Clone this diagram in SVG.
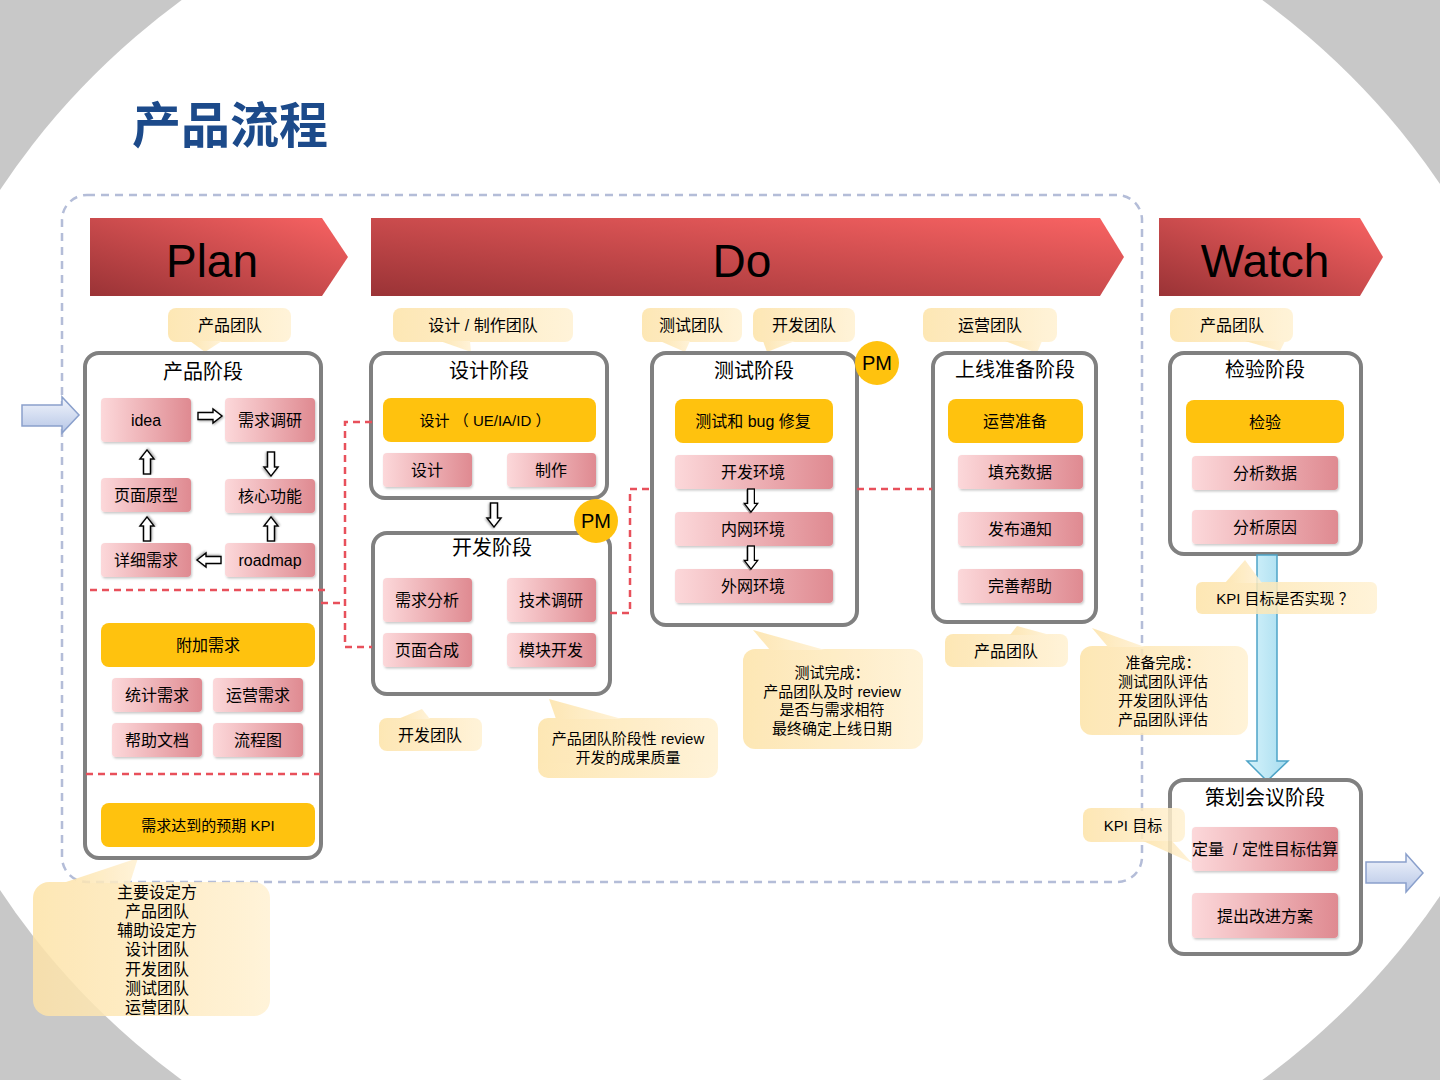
<svg xmlns="http://www.w3.org/2000/svg" width="1440" height="1080" viewBox="0 0 1440 1080">
<style>
text{font-family:"Liberation Sans","Noto Sans CJK SC",sans-serif;fill:#000;text-anchor:middle}
.t16{font-size:16px}
.t15{font-size:15px}
.t20{font-size:20px}
.ban{font-size:46px}
.stage{fill:#fff;stroke:#808080;stroke-width:4}
.pink{fill:url(#gPink);filter:url(#sh)}
.yel{fill:#FFC20E}
.call{opacity:0.85}
.call rect,.call polygon{fill:url(#gCall)}
.red{fill:none;stroke:#e8505b;stroke-width:2.5;stroke-dasharray:7 5}
.blk{fill:#fff;stroke:#000;stroke-width:1.4;filter:url(#sh2)}
.side{fill:url(#gSide);stroke:#8aa0cc;stroke-width:1.5}
</style>
<defs>
<linearGradient id="gBan" x1="0" y1="1" x2="1" y2="0">
<stop offset="0" stop-color="#9a3336"/>
<stop offset="1" stop-color="#f96363"/>
</linearGradient>
<linearGradient id="gPink" x1="0" y1="0" x2="1" y2="0">
<stop offset="0" stop-color="#fcd8da"/>
<stop offset="1" stop-color="#df8a91"/>
</linearGradient>
<linearGradient id="gCall" x1="0" y1="0" x2="1" y2="0">
<stop offset="0" stop-color="#fde3a8"/>
<stop offset="1" stop-color="#fff1d2"/>
</linearGradient>
<linearGradient id="gSide" x1="0" y1="0" x2="0" y2="1">
<stop offset="0" stop-color="#f2f5fc"/>
<stop offset="1" stop-color="#b6c6e6"/>
</linearGradient>
<linearGradient id="gBlue" x1="0" y1="0" x2="1" y2="0">
<stop offset="0" stop-color="#d6f3fb"/>
<stop offset="1" stop-color="#a6dcef"/>
</linearGradient>
<filter id="sh" x="-10%" y="-10%" width="120%" height="130%">
<feDropShadow dx="1" dy="1.5" stdDeviation="1" flood-color="#000" flood-opacity="0.22"/>
</filter>
<filter id="sh2" x="-30%" y="-30%" width="160%" height="160%">
<feDropShadow dx="1" dy="1" stdDeviation="0.8" flood-color="#000" flood-opacity="0.35"/>
</filter>
<path id="ar" d="M0,-3.5 H15 V-7 L24,0 L15,7 V3.5 H0 Z"/>
</defs>

<rect x="0" y="0" width="1440" height="1080" fill="#c8c8c8"/>
<ellipse cx="722" cy="540" rx="829" ry="712" fill="#fff"/>

<text x="230" y="143" style="font-size:49px;font-weight:bold;fill:#1c4a8a;text-anchor:middle">产品流程</text>

<rect x="62" y="195" width="1080" height="687" rx="25" fill="none" stroke="#b4bdd8" stroke-width="2.5" stroke-dasharray="8 6"/>

<g id="banner-plan">
<polygon points="90,218 322,218 348,257 322,296 90,296" fill="url(#gBan)"/>
<text class="ban" x="212" y="277">Plan</text>
</g>
<g id="banner-do">
<polygon points="371,218 1100,218 1124,257 1100,296 371,296" fill="url(#gBan)"/>
<text class="ban" x="742" y="277">Do</text>
</g>
<g id="banner-watch">
<polygon points="1159,218 1360,218 1383,257 1360,296 1159,296" fill="url(#gBan)"/>
<text class="ban" x="1265" y="277">Watch</text>
</g>

<g id="callouts">
<g class="call"><rect x="168" y="308" width="123" height="34" rx="8"/><polygon points="190,341 222,341 205,352"/></g>
<text class="t16" x="230" y="331">产品团队</text>
<g class="call"><rect x="393" y="308" width="180" height="34" rx="8"/><polygon points="440,341 470,341 471,352"/></g>
<text class="t16" x="483" y="331">设计 / 制作团队</text>
<g class="call"><rect x="642" y="308" width="100" height="34" rx="8"/><polygon points="660,341 690,341 685,352"/></g>
<text class="t16" x="691" y="331">测试团队</text>
<g class="call"><rect x="753" y="308" width="102" height="34" rx="8"/><polygon points="763,341 795,341 767,352"/></g>
<text class="t16" x="804" y="331">开发团队</text>
<g class="call"><rect x="923" y="308" width="134" height="34" rx="8"/><polygon points="1005,341 1042,341 1037,353"/></g>
<text class="t16" x="990" y="331">运营团队</text>
<g class="call"><rect x="1170" y="308" width="123" height="34" rx="8"/><polygon points="1245,341 1285,341 1280,351"/></g>
<text class="t16" x="1232" y="331">产品团队</text>

<g class="call"><rect x="379" y="718" width="103" height="33" rx="8"/><polygon points="398,719 430,719 422,709"/></g>
<text class="t16" x="430" y="741">开发团队</text>
<g class="call"><rect x="538" y="718" width="180" height="60" rx="10"/><polygon points="556,719 622,719 549,699"/></g>
<text class="t15" x="628" y="744">产品团队阶段性 review</text>
<text class="t15" x="628" y="763">开发的成果质量</text>

<g class="call"><rect x="743" y="649" width="180" height="100" rx="12"/><polygon points="770,650 825,650 753,630"/></g>
<text class="t15" x="832" y="678">测试完成：</text>
<text class="t15" x="832" y="697">产品团队及时 review</text>
<text class="t15" x="832" y="715">是否与需求相符</text>
<text class="t15" x="832" y="734">最终确定上线日期</text>

<g class="call"><rect x="945" y="634" width="123" height="33" rx="8"/><polygon points="1010,635 1050,635 1017,626"/></g>
<text class="t16" x="1006" y="657">产品团队</text>

<g class="call"><rect x="1080" y="646" width="168" height="89" rx="12"/><polygon points="1108,647 1145,647 1092,628"/></g>
<text class="t15" x="1163" y="668">准备完成：</text>
<text class="t15" x="1163" y="687">测试团队评估</text>
<text class="t15" x="1163" y="706">开发团队评估</text>
<text class="t15" x="1163" y="725">产品团队评估</text>

<g class="call"><rect x="33" y="882" width="237" height="134" rx="16"/><polygon points="63,883 130,883 138,858"/></g>
<text class="t16" x="157" y="898">主要设定方</text>
<text class="t16" x="157" y="917">产品团队</text>
<text class="t16" x="157" y="936">辅助设定方</text>
<text class="t16" x="157" y="955">设计团队</text>
<text class="t16" x="157" y="975">开发团队</text>
<text class="t16" x="157" y="994">测试团队</text>
<text class="t16" x="157" y="1013">运营团队</text>
</g>

<g id="stage-product">
<rect class="stage" x="85" y="353" width="236" height="505" rx="14"/>
<text class="t20" x="203" y="379">产品阶段</text>
<rect class="pink" x="101" y="398" width="90" height="44" rx="4"/><text class="t16" x="146" y="426">idea</text>
<rect class="pink" x="225" y="398" width="90" height="44" rx="4"/><text class="t16" x="270" y="426">需求调研</text>
<rect class="pink" x="101" y="478" width="90" height="34" rx="4"/><text class="t16" x="146" y="501">页面原型</text>
<rect class="pink" x="225" y="479" width="90" height="34" rx="4"/><text class="t16" x="270" y="502">核心功能</text>
<rect class="pink" x="101" y="543" width="90" height="34" rx="4"/><text class="t16" x="146" y="566">详细需求</text>
<rect class="pink" x="225" y="543" width="90" height="34" rx="4"/><text class="t16" x="270" y="566">roadmap</text>
<rect class="yel" x="101" y="623" width="214" height="44" rx="8"/><text class="t16" x="208" y="651">附加需求</text>
<rect class="pink" x="112" y="678" width="90" height="34" rx="4"/><text class="t16" x="157" y="701">统计需求</text>
<rect class="pink" x="213" y="678" width="90" height="34" rx="4"/><text class="t16" x="258" y="701">运营需求</text>
<rect class="pink" x="112" y="723" width="90" height="34" rx="4"/><text class="t16" x="157" y="746">帮助文档</text>
<rect class="pink" x="213" y="723" width="90" height="34" rx="4"/><text class="t16" x="258" y="746">流程图</text>
<rect class="yel" x="101" y="803" width="214" height="44" rx="8"/><text class="t15" x="208" y="831">需求达到的预期 KPI</text>
</g>

<g id="stage-design">
<rect class="stage" x="371" y="353" width="236" height="145" rx="14"/>
<text class="t20" x="489" y="378">设计阶段</text>
<rect class="yel" x="383" y="398" width="213" height="44" rx="8"/><text class="t15" x="485" y="426">设计 （ UE/IA/ID ）</text>
<rect class="pink" x="383" y="453" width="89" height="34" rx="4"/><text class="t16" x="427" y="476">设计</text>
<rect class="pink" x="507" y="453" width="89" height="34" rx="4"/><text class="t16" x="551" y="476">制作</text>
</g>

<g id="stage-dev">
<rect class="stage" x="373" y="533" width="237" height="161" rx="14"/>
<text class="t20" x="492" y="555">开发阶段</text>
<rect class="pink" x="383" y="578" width="89" height="44" rx="4"/><text class="t16" x="427" y="606">需求分析</text>
<rect class="pink" x="507" y="578" width="89" height="44" rx="4"/><text class="t16" x="551" y="606">技术调研</text>
<rect class="pink" x="383" y="633" width="89" height="34" rx="4"/><text class="t16" x="427" y="656">页面合成</text>
<rect class="pink" x="507" y="633" width="89" height="34" rx="4"/><text class="t16" x="551" y="656">模块开发</text>
</g>

<g id="pm-dev">
<circle cx="596" cy="521" r="22" fill="#FFC20E"/>
<text class="t20" x="596" y="528">PM</text>
</g>

<g id="stage-test">
<rect class="stage" x="652" y="353" width="205" height="272" rx="14"/>
<text class="t20" x="754" y="378">测试阶段</text>
<rect class="yel" x="675" y="399" width="158" height="44" rx="8"/><text class="t16" x="753" y="427">测试和 bug 修复</text>
<rect class="pink" x="675" y="455" width="158" height="34" rx="4"/><text class="t16" x="753" y="478">开发环境</text>
<rect class="pink" x="675" y="512" width="158" height="34" rx="4"/><text class="t16" x="753" y="535">内网环境</text>
<rect class="pink" x="675" y="569" width="158" height="34" rx="4"/><text class="t16" x="753" y="592">外网环境</text>
</g>

<g id="pm-test">
<circle cx="877" cy="363" r="22" fill="#FFC20E"/>
<text class="t20" x="877" y="370">PM</text>
</g>

<g id="stage-launch">
<rect class="stage" x="933" y="353" width="163" height="269" rx="14"/>
<text class="t20" x="1015" y="377">上线准备阶段</text>
<rect class="yel" x="948" y="399" width="135" height="44" rx="8"/><text class="t16" x="1015" y="427">运营准备</text>
<rect class="pink" x="958" y="455" width="125" height="34" rx="4"/><text class="t16" x="1020" y="478">填充数据</text>
<rect class="pink" x="958" y="512" width="125" height="34" rx="4"/><text class="t16" x="1020" y="535">发布通知</text>
<rect class="pink" x="958" y="569" width="125" height="34" rx="4"/><text class="t16" x="1020" y="592">完善帮助</text>
</g>

<g id="stage-check">
<rect class="stage" x="1170" y="353" width="191" height="201" rx="14"/>
<text class="t20" x="1265" y="377">检验阶段</text>
<rect class="yel" x="1186" y="400" width="158" height="43" rx="8"/><text class="t16" x="1265" y="428">检验</text>
<rect class="pink" x="1192" y="456" width="146" height="34" rx="4"/><text class="t16" x="1265" y="479">分析数据</text>
<rect class="pink" x="1192" y="510" width="146" height="34" rx="4"/><text class="t16" x="1265" y="533">分析原因</text>
</g>

<g id="connectors">
<path class="red" d="M90,590 H325"/>
<path class="red" d="M86,774 H320"/>
<path class="red" d="M321,603 H345"/>
<path class="red" d="M372,422 H345 V647 H372"/>
<path class="red" d="M610,613 H630 V489 H652"/>
<path class="red" d="M857,489 H932"/>
<polygon class="side" points="22,405 62,405 62,397 79,415 62,433 62,426 22,426"/>
<polygon class="side" points="1366,862 1406,862 1406,854 1423,873 1406,892 1406,883 1366,883"/>
<use href="#ar" class="blk" transform="translate(198,416)"/>
<use href="#ar" class="blk" transform="translate(271,452) rotate(90)"/>
<use href="#ar" class="blk" transform="translate(271,541) rotate(-90)"/>
<use href="#ar" class="blk" transform="translate(221,560) rotate(180)"/>
<use href="#ar" class="blk" transform="translate(147,541) rotate(-90)"/>
<use href="#ar" class="blk" transform="translate(147,474) rotate(-90)"/>
<use href="#ar" class="blk" transform="translate(494,503) rotate(90)"/>
<use href="#ar" class="blk" transform="translate(751,489) rotate(90) scale(0.96)"/>
<use href="#ar" class="blk" transform="translate(751,546) rotate(90) scale(0.96)"/>
<polygon points="1257,555 1277,555 1277,761 1288,761 1267,781 1247,761 1257,761" fill="url(#gBlue)" stroke="#4ea4c7" stroke-width="1.5"/>
</g>

<g id="callout-kpi">
<g class="call"><rect x="1196" y="582" width="181" height="32" rx="6"/><polygon points="1225,583 1262,583 1245,560"/></g>
<text class="t15" x="1285" y="604">KPI 目标是否实现 ？</text>
</g>

<g id="stage-plan-meeting">
<rect class="stage" x="1170" y="780" width="191" height="174" rx="14"/>
<text class="t20" x="1265" y="805">策划会议阶段</text>
<rect class="pink" x="1192" y="827" width="146" height="44" rx="4"/><text class="t16" x="1265" y="855" xml:space="preserve">定量  / 定性目标估算</text>
<rect class="pink" x="1192" y="893" width="146" height="45" rx="4"/><text class="t16" x="1265" y="922">提出改进方案</text>
</g>

<g id="callout-kpi-target">
<g class="call"><rect x="1083" y="808" width="102" height="34" rx="8"/><polygon points="1143,841 1172,841 1192,863"/></g>
<text class="t15" x="1133" y="831">KPI 目标</text>
</g>
</svg>
